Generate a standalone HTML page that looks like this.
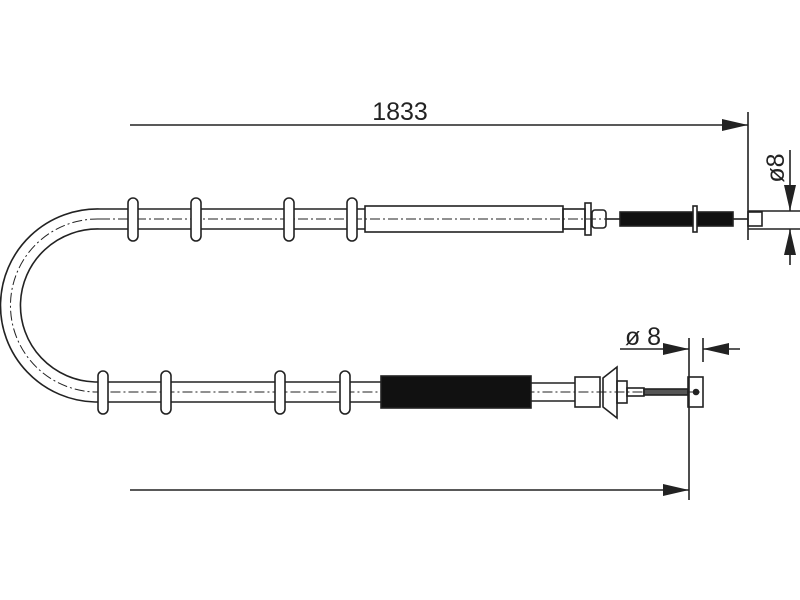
<!DOCTYPE html>
<html><head><style>body{margin:0;background:#fff}svg{display:block}</style></head><body>
<svg width="800" height="600" viewBox="0 0 800 600" xmlns="http://www.w3.org/2000/svg" font-family="Liberation Sans, sans-serif">
<defs><marker id="a" markerWidth="26" markerHeight="12" refX="26" refY="6" orient="auto" markerUnits="userSpaceOnUse"><path d="M0,0 L26,6 L0,12 Z" fill="#222"/></marker></defs>
<g fill="none" stroke="#222" stroke-width="1.6">
<!-- cable tubes -->
<path d="M100,209 H365 M100,229 H365 M100,209 A97,96.5 0 0 0 95,402 M100,229 A77,76.5 0 0 0 95,382"/>
<path d="M95,382 H385 M95,402 H385"/>
<path d="M100,219 H748 M100,219 A87,86.5 0 0 0 95,392 H700" stroke-dasharray="10,3,2,3" stroke-width="1"/>
<!-- top clamps -->
<rect x="128" y="198" width="10" height="43" rx="5" fill="#fff"/>
<rect x="191" y="198" width="10" height="43" rx="5" fill="#fff"/>
<rect x="284" y="198" width="10" height="43" rx="5" fill="#fff"/>
<rect x="347" y="198" width="10" height="43" rx="5" fill="#fff"/>
<!-- bottom clamps -->
<rect x="98" y="371" width="10" height="43" rx="5" fill="#fff"/>
<rect x="161" y="371" width="10" height="43" rx="5" fill="#fff"/>
<rect x="275" y="371" width="10" height="43" rx="5" fill="#fff"/>
<rect x="340" y="371" width="10" height="43" rx="5" fill="#fff"/>
<!-- top end -->
<rect x="365" y="206" width="198" height="26"/>
<rect x="563" y="209" width="22" height="20"/>
<rect x="585" y="203" width="6" height="32"/>
<rect x="592" y="210" width="14" height="18" rx="3"/>
<line x1="606" y1="219" x2="620" y2="219"/>
<rect x="620" y="212" width="113" height="14" fill="#111"/>
<rect x="693" y="206" width="4" height="26" fill="#fff"/>
<line x1="733" y1="219" x2="748" y2="219"/>
<rect x="748" y="212" width="14" height="14"/>
<!-- bottom end -->
<rect x="381" y="376" width="150" height="32" fill="#111"/>
<line x1="531" y1="383" x2="575" y2="383"/><line x1="531" y1="401" x2="575" y2="401"/>
<rect x="575" y="377" width="25" height="30"/>
<path d="M603,378 L617,367 L617,418 L603,407 Z"/>
<rect x="617" y="381" width="10" height="22"/>
<rect x="627" y="388" width="17" height="8"/>
<rect x="644" y="389" width="44" height="6" fill="#555"/>
<rect x="688" y="377" width="15" height="30"/>
<circle cx="696" cy="392" r="2.5" fill="#222"/>
<!-- dimensions -->
<line x1="130" y1="125" x2="748" y2="125" marker-end="url(#a)"/>
<line x1="748" y1="112" x2="748" y2="240"/>
<line x1="748" y1="211" x2="800" y2="211"/><line x1="748" y1="229" x2="800" y2="229"/>
<line x1="790" y1="150" x2="790" y2="211" marker-end="url(#a)"/>
<line x1="790" y1="265" x2="790" y2="229" marker-end="url(#a)"/>
<line x1="130" y1="490" x2="689" y2="490" marker-end="url(#a)"/>
<line x1="689" y1="338" x2="689" y2="500"/>
<line x1="703" y1="338" x2="703" y2="362"/>
<line x1="620" y1="349" x2="689" y2="349" marker-end="url(#a)"/>
<line x1="740" y1="349" x2="703" y2="349" marker-end="url(#a)"/>
</g>
<text x="400" y="120" font-size="25" text-anchor="middle" fill="#222">1833</text>
<text transform="translate(784,168) rotate(-90)" font-size="25" text-anchor="middle" fill="#222">ø8</text>
<text x="643" y="345" font-size="25" text-anchor="middle" fill="#222">ø 8</text>
</svg>
</body></html>
